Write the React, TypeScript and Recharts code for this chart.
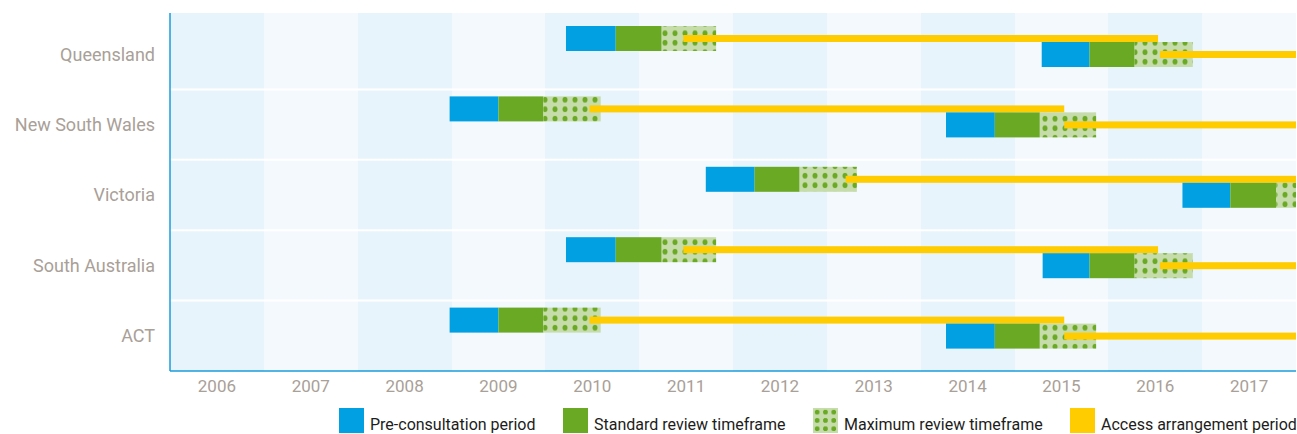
import { BarChart, Bar, XAxis, YAxis, CartesianGrid, ReferenceLine, Legend } from 'recharts';

const regions = ['Queensland', 'New South Wales', 'Victoria', 'South Australia', 'ACT'];
const years = [2006, 2007, 2008, 2009, 2010, 2011, 2012, 2013, 2014, 2015, 2016, 2017];

// first review (upper bar in each row)
const preStart1 = [2009.72, 2008.48, 2011.21, 2009.72, 2008.48];
const reviewStart1 = [2010.25, 2009.0, 2011.73, 2010.25, 2009.0];
const maxStart1 = [2010.74, 2009.48, 2012.21, 2010.74, 2009.48];
const maxEnd1 = [2011.32, 2010.09, 2012.82, 2011.32, 2010.09];
const accessStart1 = [2010.97, 2009.97, 2012.7, 2010.97, 2009.97];
const accessEnd1 = [2016.03, 2015.03, 2018.0, 2016.03, 2015.03];

// second review (lower bar in each row)
const preStart2 = [2014.79, 2013.77, 2016.29, 2014.8, 2013.77];
const reviewStart2 = [2015.3, 2014.29, 2016.8, 2015.3, 2014.29];
const maxStart2 = [2015.78, 2014.77, 2017.29, 2015.78, 2014.77];
const maxEnd2 = [2016.4, 2015.37, 2017.9, 2016.4, 2015.37];
const accessStart2 = [2016.05, 2015.03, null, 2016.05, 2015.03];
const accessEnd2 = [2018.0, 2018.0, null, 2018.0, 2018.0];

const legendNames = [
  'Pre-consultation period',
  'Standard review timeframe',
  'Maximum review timeframe',
  'Access arrangement period',
];

const FONT = 'Roboto, sans-serif';
const BLUE = '#00a0e2';
const GREEN = '#6aa924';
const DOT_BG = '#c6dcaa';
const YELLOW = '#ffcc00';
const AXIS = '#1a9ddb';
const LABEL = '#a9a097';

type Stage = {
  pre: number;
  review: number;
  max: number;
  end: number;
  accessStart: number | null;
  accessEnd: number | null;
};

const rows = regions.map((region, i) => ({
  region,
  first: {
    pre: preStart1[i],
    review: reviewStart1[i],
    max: maxStart1[i],
    end: maxEnd1[i],
    accessStart: accessStart1[i],
    accessEnd: accessEnd1[i],
  } as Stage,
  second: {
    pre: preStart2[i],
    review: reviewStart2[i],
    max: maxStart2[i],
    end: maxEnd2[i],
    accessStart: accessStart2[i],
    accessEnd: accessEnd2[i],
  } as Stage,
}));

// the bar covers pre-consultation start .. max review end; split it inside
const reviewShape = (key: 'first' | 'second') => (props: any) => {
  const { x, y, width, height, payload } = props;
  const s: Stage = payload[key];
  const k = width / (s.end - s.pre);
  const px = (v: number) => x + (v - s.pre) * k;
  const mid = y + height / 2;
  return (
    <g>
      <rect x={px(s.pre)} y={y} width={px(s.review) - px(s.pre)} height={height} fill={BLUE} />
      <rect x={px(s.review)} y={y} width={px(s.max) - px(s.review)} height={height} fill={GREEN} />
      <rect x={px(s.max)} y={y} width={px(s.end) - px(s.max)} height={height} fill="url(#maxDots)" />
      {s.accessStart != null && s.accessEnd != null && (
        <rect
          x={px(s.accessStart)}
          y={mid - 3.5}
          width={px(s.accessEnd) - px(s.accessStart)}
          height={7}
          fill={YELLOW}
        />
      )}
    </g>
  );
};

// year band edges for the alternating background
const yearEdges = ({ xAxis, offset }: any) => {
  if (xAxis && typeof xAxis.scale === 'function') {
    return years.map((yr) => xAxis.scale(yr - 0.5));
  }
  const step = offset.width / years.length;
  return years.map((_, i) => offset.left + i * step);
};

const swatches = [
  BLUE,
  GREEN,
  `radial-gradient(circle, ${GREEN} 2.3px, transparent 2.7px) 0 0 / 8.3px 8.3px, ${DOT_BG}`,
  YELLOW,
];
const legendWidths = [224, 250, 257, 230];

const renderLegend = () => (
  <div
    style={{
      display: 'flex',
      alignItems: 'flex-start',
      height: 34,
      paddingTop: 2,
      paddingLeft: 339,
      boxSizing: 'border-box',
      fontFamily: FONT,
      fontSize: 16,
      color: '#1d1d1b',
    }}
  >
    {legendNames.map((name, i) => (
      <div
        key={name}
        style={{ display: 'flex', alignItems: 'flex-end', height: 25, width: legendWidths[i], flex: 'none' }}
      >
        <span style={{ width: 25, height: 25, background: swatches[i], flex: 'none' }} />
        <span style={{ marginLeft: 6, lineHeight: '16px', whiteSpace: 'nowrap' }}>{name}</span>
      </div>
    ))}
  </div>
);

export default function App() {
  return (
    <div style={{ width: 1297, height: 434, overflow: 'hidden' }}>
      <style>{'body{margin:0;overflow:hidden}'}</style>
      <BarChart
        layout="vertical"
        width={1297}
        height={440}
        data={rows}
        margin={{ top: 13, right: 1, bottom: 0, left: 0 }}
        barGap={-9}
      >
        <defs>
          <pattern id="maxDots" patternUnits="userSpaceOnUse" width={10} height={9.5}>
            <rect width={10} height={9.5} fill={DOT_BG} />
            <ellipse cx={5} cy={4.75} rx={2.5} ry={2.8} fill={GREEN} />
          </pattern>
        </defs>
        <CartesianGrid
          horizontal={false}
          vertical
          stroke="none"
          verticalCoordinatesGenerator={yearEdges}
          verticalFill={['#e8f4fc', '#f4f9fe']}
          fillOpacity={1}
        />
        <XAxis
          type="number"
          domain={[2005.5, 2017.5]}
          ticks={years}
          interval={0}
          allowDataOverflow
          height={35}
          tickLine={false}
          tickSize={0}
          tickMargin={9}
          axisLine={{ stroke: AXIS, strokeWidth: 1.5 }}
          tick={{ fill: LABEL, fontSize: 17, fontFamily: FONT }}
        />
        <YAxis
          type="category"
          dataKey="region"
          width={170}
          padding={{ top: 6, bottom: 0 }}
          tickLine={false}
          tickSize={0}
          tickMargin={15}
          axisLine={{ stroke: AXIS, strokeWidth: 1.5 }}
          tick={{ fill: LABEL, fontSize: 18, fontFamily: FONT }}
        />
        {regions.slice(1).map((r) => (
          <ReferenceLine key={r} y={r} position="start" stroke="#ffffff" strokeWidth={2} />
        ))}
        <Legend verticalAlign="bottom" content={renderLegend} />
        <Bar
          dataKey={(d: any) => [d.first.pre, d.first.end]}
          barSize={25}
          shape={reviewShape('first')}
          isAnimationActive={false}
        />
        <Bar
          dataKey={(d: any) => [d.second.pre, d.second.end]}
          barSize={25}
          shape={reviewShape('second')}
          isAnimationActive={false}
        />
        {/* empty slot that pushes the two review bars to the upper part of each row */}
        <Bar dataKey="spacer" barSize={24} isAnimationActive={false} />
      </BarChart>
    </div>
  );
}
